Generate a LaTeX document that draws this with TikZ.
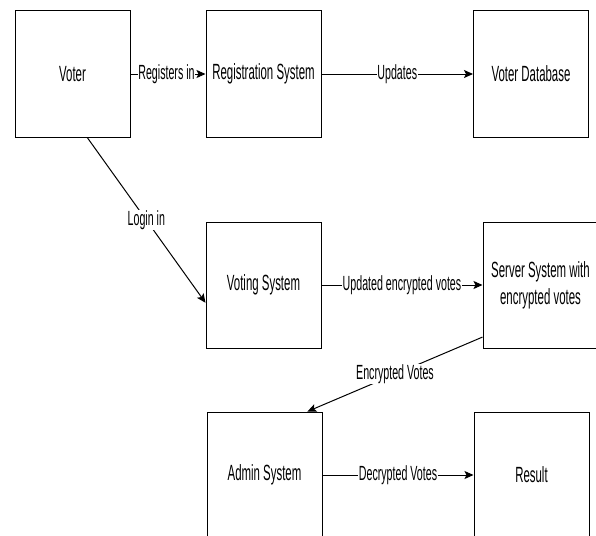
\documentclass[tikz,border=0pt]{standalone}
\usepackage{fontspec}
\setmainfont{Liberation Sans}[FakeStretch=0.52]
\usetikzlibrary{arrows.meta,calc}
\begin{document}
\begin{tikzpicture}[x=1pt,y=-1pt,
  box/.style={draw=black,line width=1pt,minimum width=115pt,minimum height=126pt,inner sep=0pt,align=center,
    font=\fontsize{22}{27}\selectfont},
  conn/.style={draw=black,line width=1pt,-{Stealth[length=9pt,width=8pt,inset=2pt]}},
  lbl/.style={fill=white,inner sep=0.5pt,font=\fontsize{20.5}{25}\selectfont}]
\useasboundingbox (0,0) rectangle (596,535);
\node[box] (voter) at (72.5,74) {Voter};
\node[box] (reg) at (263.5,74) {Registration System};
\node[box] (db) at (531,74) {Voter Database};
\node[box] (voting) at (263.5,285) {Voting System};
\node[box] (server) at (540.5,285) {Server System with\\encrypted votes};
\node[box] (admin) at (264.5,475) {Admin System};
\node[box] (result) at (531.5,475) {Result};
\coordinate (v1) at ($(voter.south west)!0.627!(voter.south east)$);
\coordinate (v2) at ($(voting.north west)!0.64!(voting.south west)$);
\coordinate (s1) at ($(server.north west)!0.91!(server.south west)$);
\coordinate (a1) at ($(admin.north west)!0.87!(admin.north east)$);
\draw[conn] (voter) -- node[lbl,xshift=-1.5pt] {Registers in} (reg);
\draw[conn] (reg) -- node[lbl] {Updates} (db);
\draw[conn] (v1) -- node[lbl] {Login in} (v2);
\draw[conn] (voting.east |- server.west) -- node[lbl] {Updated encrypted votes} (server.west);
\draw[conn] (s1) -- node[lbl] {Encrypted Votes} (a1);
\draw[conn] (admin) -- node[lbl] {Decrypted Votes} (result);
\end{tikzpicture}
\end{document}
